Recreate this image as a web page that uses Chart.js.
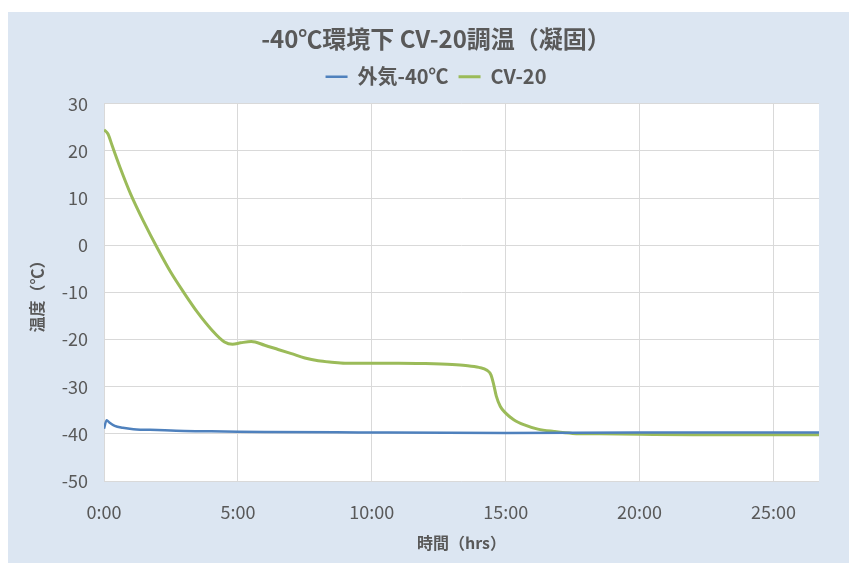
<!DOCTYPE html>
<html>
<head>
<meta charset="utf-8">
<script src="https://cdn.jsdelivr.net/npm/chart.js@4"></script>
<style>
  body { margin: 0; background: #ffffff; }
  #wrap { position: absolute; left: 8px; top: 12px; width: 841px; height: 551px; background: #dce6f2; }
</style>
</head>
<body>
<div id="wrap"><canvas id="temp-chart"></canvas></div>
<script>
// hours since start
const outsideHours = [0, 0.1, 0.2, 0.4, 0.7, 1.1, 2, 3, 4.5, 6, 9.5, 15, 20, 26.7];
const outsideTemp  = [-38.9, -37.1, -37.6, -38.3, -38.7, -39.0, -39.2, -39.4, -39.5, -39.6, -39.7, -39.8, -39.7, -39.7];

const cvHours = [0, 0.15, 0.3, 0.6, 1.0, 1.5, 2.0, 2.5, 3.0, 3.5, 4.0, 4.5, 4.8, 5.1, 5.5, 6.0, 6.5, 7.0, 7.5, 8.0, 8.5, 9.0,
                 10, 11, 12, 13, 13.5, 14.0, 14.3, 14.45, 14.55, 14.65, 14.8, 15.0, 15.3, 15.7, 16.2, 16.8, 17.5, 18.5, 20, 22, 24, 26.7];
const cvTemp  = [24.5, 23.6, 21.2, 16.5, 10.8, 4.8, -0.7, -5.8, -10.2, -14.3, -17.8, -20.5, -21.0, -20.7, -20.4, -21.2, -22.1, -23.0, -23.9, -24.5, -24.8, -25.0,
                 -25.0, -25.0, -25.1, -25.3, -25.5, -25.9, -26.5, -27.5, -29.5, -32.0, -34.2, -35.6, -37.0, -38.1, -39.0, -39.5, -39.9, -40.0, -40.1, -40.2, -40.2, -40.2];

const seriesNames = ['外気-40℃', 'CV-20'];
const yTicks = { min: -50, max: 30, step: 10 };
const xTicks = { min: 0, max: 26.7, step: 5 };

function toPoints(xs, ys) {
    return xs.map((x, i) => ({ x: x, y: ys[i] }));
}

const textGray = '#595959';
const cjk = '"Noto Sans CJK JP", "Noto Sans", sans-serif';

const plotBackground = {
    id: 'plotBackground',
    beforeDraw(chart) {
        const a = chart.chartArea;
        chart.ctx.save();
        chart.ctx.fillStyle = '#ffffff';
        chart.ctx.fillRect(a.left, a.top, a.right - a.left, a.bottom - a.top);
        chart.ctx.restore();
    }
};

// a bit more room under the legend
const legendGap = {
    id: 'legendGap',
    beforeLayout(chart) {
        const lg = chart.legend;
        if (lg && !lg._gapPatched) {
            const fit = lg.fit;
            lg.fit = function () {
                fit.call(this);
                this.height += 7;
            };
            lg._gapPatched = true;
        }
    }
};

const ctx = document.getElementById('temp-chart').getContext('2d');
new Chart(ctx, {
    type: 'line',
    data: {
        datasets: [{
            label: seriesNames[0],
            data: toPoints(outsideHours, outsideTemp),
            borderColor: '#4f81bd',
            borderWidth: 2.5,
            pointRadius: 0,
            cubicInterpolationMode: 'monotone',
            pointStyle: 'line'
        }, {
            label: seriesNames[1],
            data: toPoints(cvHours, cvTemp),
            borderColor: '#9bbb59',
            borderWidth: 3,
            pointRadius: 0,
            cubicInterpolationMode: 'monotone',
            pointStyle: 'line'
        }]
    },
    options: {
        responsive: true,
        maintainAspectRatio: false,
        animation: false,
        layout: { padding: { left: 45, right: 30, top: 0, bottom: 0 } },
        plugins: {
            title: {
                display: true,
                text: '-40℃環境下 CV-20調温（凝固）',
                color: textGray,
                font: { family: cjk, size: 24, weight: 'bold' },
                padding: { top: 12, bottom: 4 }
            },
            legend: {
                labels: {
                    color: textGray,
                    font: { family: cjk, size: 20, weight: 'bold' },
                    usePointStyle: true,
                    pointStyleWidth: 22,
                    boxHeight: 10,
                    padding: 10
                }
            },
            tooltip: { enabled: false }
        },
        scales: {
            x: {
                type: 'linear',
                min: xTicks.min,
                max: xTicks.max,
                afterFit: s => { s.height = 82; },
                border: { display: false },
                grid: { color: '#d9d9d9', drawTicks: false },
                ticks: {
                    stepSize: xTicks.step,
                    includeBounds: false,
                    color: textGray,
                    padding: 20,
                    font: { family: cjk, size: 18 },
                    callback: v => v + ':00'
                },
                title: {
                    display: true,
                    text: '時間（hrs）',
                    color: textGray,
                    font: { family: cjk, size: 16, weight: 'bold' },
                    padding: { top: 0, bottom: 10 }
                }
            },
            y: {
                min: yTicks.min,
                max: yTicks.max,
                afterFit: s => { s.width = 51; },
                border: { display: false },
                grid: { color: '#d9d9d9', drawTicks: false },
                ticks: {
                    stepSize: yTicks.step,
                    color: textGray,
                    padding: 16,
                    font: { family: cjk, size: 18 }
                },
                title: {
                    display: true,
                    text: '温度（℃）',
                    color: textGray,
                    font: { family: cjk, size: 16, weight: 'bold' },
                    padding: { top: -26, bottom: 0 }
                }
            }
        }
    },
    plugins: [plotBackground, legendGap]
});
</script>
</body>
</html>
